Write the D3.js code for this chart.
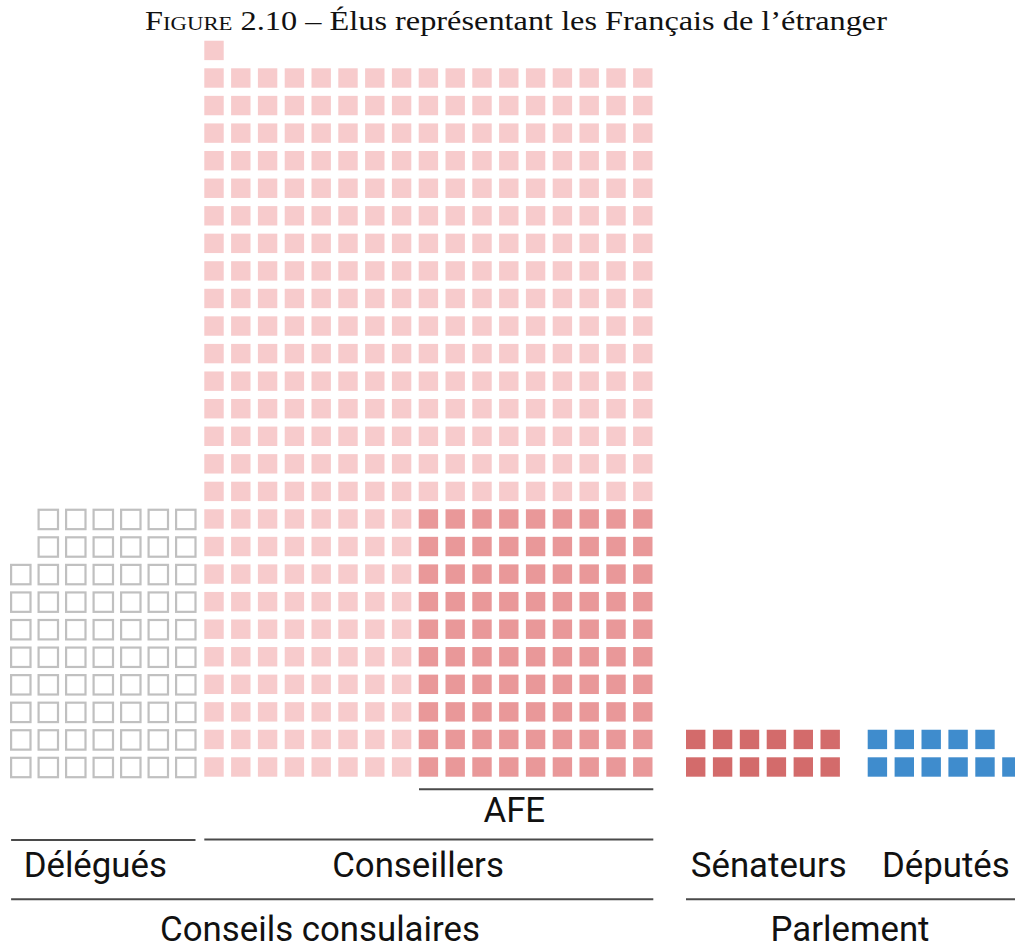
<!DOCTYPE html>
<html>
<head>
<meta charset="utf-8">
<script src="https://cdn.jsdelivr.net/npm/d3@7"></script>
<style>
  body { margin: 0; background: #fff; }
  .label { font-family: Roboto, sans-serif; font-size: 34.8px; fill: #111; text-anchor: middle; }
  .title { font-family: "Liberation Serif", serif; font-size: 27px; fill: #111; text-anchor: middle; }
</style>
</head>
<body>
<div id="chart"></div>
<script>
const svgWidth = 1015;
const svgHeight = 947;

// seats per body
const groupNames = ["Délégués", "Conseillers", "AFE", "Sénateurs", "Députés"];
const seatCounts = [68, 443, 90, 12, 11];
const parentNames = ["Conseils consulaires", "Parlement"];

const colors = {
  delegues: "#c0c0c0",
  conseillers: "#f7cbcc",
  afe: "#e99899",
  senateurs: "#d36b6b",
  deputes: "#3f8ccd"
};

const cell = 19.4;

const svg = d3.select("#chart")
  .append("svg")
  .attr("width", svgWidth)
  .attr("height", svgHeight);

// rows counted from the bottom
const yScale = d3.scaleLinear().domain([0, 25]).range([757.3, 68.3]);

// one column scale per block
const xDel = d3.scaleLinear().domain([0, 1]).range([11.1, 38.6]);
const xCons = d3.scaleLinear().domain([0, 1]).range([204.3, 231.1]);
const xSen = d3.scaleLinear().domain([0, 1]).range([686, 712.9]);
const xDep = d3.scaleLinear().domain([0, 1]).range([867.7, 894.6]);

// Délégués: filled column by column, from the right, 10 high
const delCells = d3.range(seatCounts[0]).map(i => ({ col: 6 - Math.floor(i / 10), row: i % 10 }));

// Conseillers: 17 per row, AFE in the lower right block
const consCols = 17;
const afeCols = 9;
const afeRows = seatCounts[2] / afeCols;
const consCells = d3.range(seatCounts[1]).map(i => {
  const row = Math.floor(i / consCols), col = i % consCols;
  return { row: row, col: col, afe: row < afeRows && col >= consCols - afeCols };
});

const senCells = d3.range(seatCounts[3]).map(i => ({ row: Math.floor(i / 6), col: i % 6 }));
const depCells = d3.range(seatCounts[4]).map(i => ({ row: Math.floor(i / 6), col: i % 6 }));

svg.append("g").selectAll("rect")
  .data(delCells)
  .enter()
  .append("rect")
  .attr("x", d => xDel(d.col))
  .attr("y", d => yScale(d.row) + 0.5)
  .attr("width", cell)
  .attr("height", cell)
  .attr("fill", "none")
  .attr("stroke", colors.delegues)
  .attr("stroke-width", 2.2);

svg.append("g").selectAll("rect")
  .data(consCells)
  .enter()
  .append("rect")
  .attr("x", d => xCons(d.col))
  .attr("y", d => yScale(d.row))
  .attr("width", cell)
  .attr("height", cell)
  .attr("fill", d => d.afe ? colors.afe : colors.conseillers);

svg.append("g").selectAll("rect")
  .data(senCells)
  .enter()
  .append("rect")
  .attr("x", d => xSen(d.col))
  .attr("y", d => yScale(d.row))
  .attr("width", cell)
  .attr("height", cell)
  .attr("fill", colors.senateurs);

svg.append("g").selectAll("rect")
  .data(depCells)
  .enter()
  .append("rect")
  .attr("x", d => xDep(d.col))
  .attr("y", d => yScale(d.row))
  .attr("width", cell)
  .attr("height", cell)
  .attr("fill", colors.deputes);

// brackets
const brackets = [
  { x1: xCons(consCols - afeCols) + 0.3, x2: xCons(consCols - 1) + cell + 0.8, y: 789.3 },
  { x1: xDel(0), x2: xDel(6) + cell, y: 840 },
  { x1: xCons(0), x2: xCons(consCols - 1) + cell + 0.8, y: 839.5 },
  { x1: xDel(0), x2: xCons(consCols - 1) + cell + 0.8, y: 899.3 },
  { x1: xSen(0), x2: svgWidth + 10, y: 899.3 }
];

svg.append("g").selectAll("line")
  .data(brackets)
  .enter()
  .append("line")
  .attr("x1", d => d.x1)
  .attr("x2", d => d.x2)
  .attr("y1", d => d.y)
  .attr("y2", d => d.y)
  .attr("stroke", "#4a4a4a")
  .attr("stroke-width", 2);

// labels
const labels = [
  { text: groupNames[2], x: 514.3, y: 821.5 },
  { text: groupNames[0], x: 95.3, y: 876.5 },
  { text: groupNames[1], x: 418, y: 876.5 },
  { text: groupNames[3], x: 768.8, y: 877 },
  { text: groupNames[4], x: 945.8, y: 877 },
  { text: parentNames[0], x: 320, y: 940.5 },
  { text: parentNames[1], x: 850, y: 940.5 }
];

svg.append("g").selectAll("text")
  .data(labels)
  .enter()
  .append("text")
  .attr("class", "label")
  .attr("x", d => d.x)
  .attr("y", d => d.y)
  .text(d => d.text);

const title = svg.append("text")
  .attr("class", "title")
  .attr("x", 516)
  .attr("y", 30)
  .attr("textLength", 742)
  .attr("lengthAdjust", "spacingAndGlyphs");
title.append("tspan").text("F");
title.append("tspan").style("font-variant", "small-caps").text("igure");
title.append("tspan").text(" 2.10 – Élus représentant les Français de l’étranger");
</script>
</body>
</html>
